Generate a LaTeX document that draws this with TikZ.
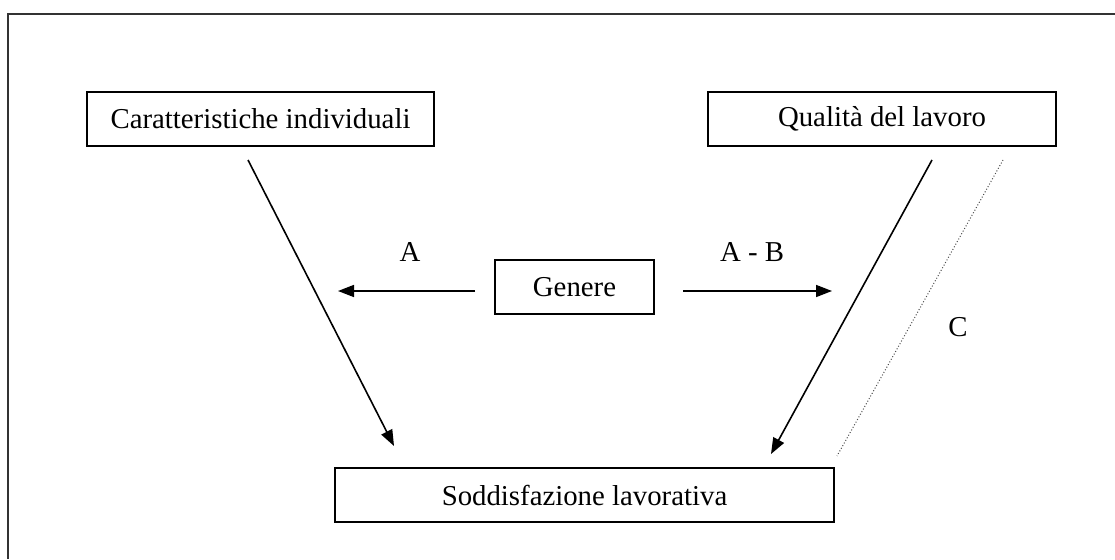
\documentclass[tikz,border=0pt]{standalone}
\usepackage{fontspec}
\setmainfont{Liberation Serif}
\usetikzlibrary{arrows.meta}
\begin{document}
\begin{tikzpicture}[x=1pt,y=-1pt,
  box/.style={draw, line width=1.8pt, minimum height=54pt, inner sep=0pt, font=\fontsize{28.8pt}{32pt}\selectfont},
  lbl/.style={font=\fontsize{28.8pt}{32pt}\selectfont, inner sep=0pt},
  arr/.style={line width=1.6pt, -{Triangle[length=16pt,width=12pt]}},
  dotline/.style={line width=1pt, dotted, draw=black!70}]
\useasboundingbox (0,0) rectangle (1115,559);
\draw[line width=2pt, black!80] (8,559) -- (8,14) -- (1115,14);
\node[box, minimum width=347pt] (ci) at (260.5,119) {Caratteristiche individuali};
\node[box, minimum width=348pt] (ql) at (882,119) {Qualità del lavoro};
\node[box, minimum width=159pt] (ge) at (574.5,287) {Genere};
\node[box, minimum width=499pt] (sl) at (584.5,495) {Soddisfazione lavorativa};
\node[lbl] (la) at (410,252) {A};
\node[lbl] (lab) at (752,252) {A - B};
\node[lbl] (lc) at (958,327) {C};
\coordinate (g1) at (475,291);
\coordinate (g1e) at (338,291);
\coordinate (g2) at (683,291);
\coordinate (g2e) at (832,291);
\coordinate (c1) at (248,160);
\coordinate (c1e) at (394,446);
\coordinate (q1) at (932,160);
\coordinate (q1e) at (771,454);
\coordinate (d1) at (1003,160);
\coordinate (d1e) at (837,456);
\draw[arr] (g1) -- (g1e);
\draw[arr] (g2) -- (g2e);
\draw[arr] (c1) -- (c1e);
\draw[arr] (q1) -- (q1e);
\draw[dotline] (d1) -- (d1e);
\end{tikzpicture}
\end{document}
